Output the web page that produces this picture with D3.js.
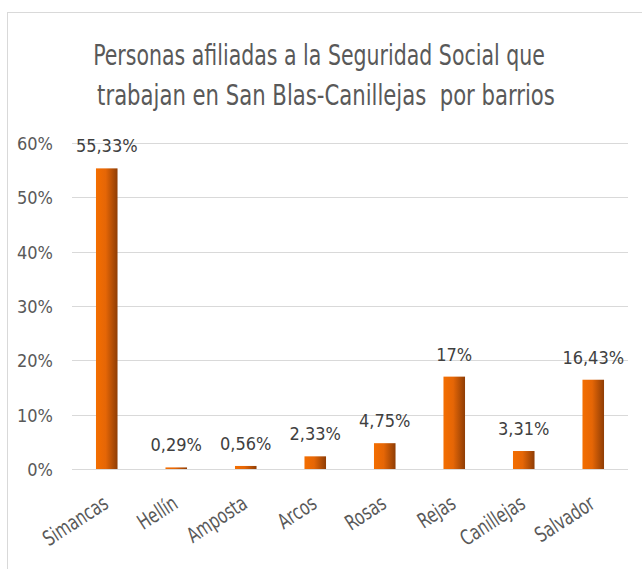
<!DOCTYPE html>
<html>
<head>
<meta charset="utf-8">
<script src="https://cdn.jsdelivr.net/npm/d3@7"></script>
<style>
  body { margin: 0; background: #fff; }
  text { font-family: "DejaVu Sans Condensed", "DejaVu Sans", sans-serif; }
</style>
</head>
<body>
<svg id="chart"></svg>
<script>
// datos por barrio
var barrios = ["Simancas", "Hellín", "Amposta", "Arcos", "Rosas", "Rejas", "Canillejas", "Salvador"];
var valores = [55.33, 0.29, 0.56, 2.33, 4.75, 17, 3.31, 16.43];
var etiquetas = ["55,33%", "0,29%", "0,56%", "2,33%", "4,75%", "17%", "3,31%", "16,43%"];
var ticks = [0, 10, 20, 30, 40, 50, 60];
var titulo = ["Personas afiliadas a la Seguridad Social que", "trabajan en San Blas-Canillejas  por barrios"];
var anchoTitulo = [452, 458];

var width = 642, height = 569;
var margin = {top: 143, left: 72, right: 14, bottom: 100};

var svg = d3.select("#chart")
  .attr("width", width)
  .attr("height", height);

// marco
svg.append("rect")
  .attr("x", 7.5).attr("y", 12.5)
  .attr("width", width).attr("height", height)
  .attr("fill", "#fff")
  .attr("stroke", "#d9d9d9");

var defs = svg.append("defs");
var grad = defs.append("linearGradient")
  .attr("id", "barra")
  .attr("x1", "0%").attr("x2", "100%")
  .attr("y1", "0%").attr("y2", "0%");
grad.append("stop").attr("offset", "0%").attr("stop-color", "#f46e00");
grad.append("stop").attr("offset", "45%").attr("stop-color", "#e56606");
grad.append("stop").attr("offset", "100%").attr("stop-color", "#8f3d05");

var x = d3.scaleBand()
  .domain(barrios)
  .range([margin.left, width - margin.right])
  .paddingInner(0.69)
  .paddingOuter(0.345);

var y = d3.scaleLinear()
  .domain([0, 60])
  .range([469, margin.top]);

// titulo (texto estrecho y alto como el original)
svg.append("g")
  .selectAll("text")
  .data(titulo)
  .join("text")
    .attr("text-anchor", "middle")
    .attr("font-size", 29)
    .attr("fill", "#595959")
    .style("white-space", "pre")
    .text(d => d)
    .attr("transform", function(d, i) {
      var w = this.getComputedTextLength();
      var cx = i == 0 ? 319 : 326;
      return "translate(" + cx + "," + (65 + i * 40) + ") scale(" + (anchoTitulo[i] / w) + ",1)";
    });

// rejilla
svg.append("g")
  .selectAll("line")
  .data(ticks)
  .join("line")
    .attr("x1", margin.left)
    .attr("x2", width - margin.right)
    .attr("y1", d => Math.round(y(d)) + 0.5)
    .attr("y2", d => Math.round(y(d)) + 0.5)
    .attr("stroke", "#d9d9d9")
    .attr("stroke-width", 1);

// eje y
var yAxis = svg.append("g")
  .attr("transform", "translate(" + (margin.left - 16) + ",0)")
  .call(d3.axisLeft(y).tickValues(ticks).tickSize(0).tickFormat(d => d + "%"));
yAxis.select(".domain").remove();
yAxis.selectAll("text")
  .attr("font-size", 18)
  .attr("font-family", null)
  .attr("fill", "#595959")
  .attr("dy", "0.36em");

// barras
svg.append("g")
  .selectAll("rect")
  .data(valores)
  .join("rect")
    .attr("x", (d, i) => x(barrios[i]))
    .attr("y", d => y(d))
    .attr("width", x.bandwidth())
    .attr("height", d => y(0) - y(d))
    .attr("fill", "url(#barra)");

// etiquetas de datos
svg.append("g")
  .selectAll("text")
  .data(valores)
  .join("text")
    .attr("x", (d, i) => x(barrios[i]) + x.bandwidth() / 2)
    .attr("y", d => y(d) - 16)
    .attr("text-anchor", "middle")
    .attr("font-size", 18)
    .attr("fill", "#404040")
    .text((d, i) => etiquetas[i]);

// eje x
var xAxis = svg.append("g")
  .attr("transform", "translate(0," + y(0) + ")")
  .call(d3.axisBottom(x).tickSize(0));
xAxis.select(".domain").remove();
xAxis.selectAll("text")
  .attr("font-size", 21)
  .attr("font-family", null)
  .attr("fill", "#595959")
  .attr("text-anchor", "end")
  .attr("y", 0)
  .attr("dy", 0)
  .attr("transform", "translate(3,38) rotate(-33) scale(0.8,1)");
</script>
</body>
</html>
